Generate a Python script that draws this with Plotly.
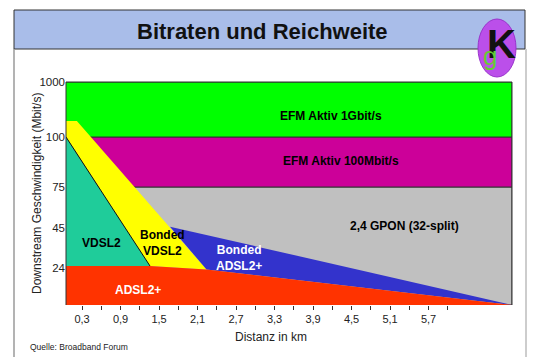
import numpy as np
import plotly.graph_objects as go

# ---------------- data ----------------
# y scale of the original is piecewise: tick values and their relative heights
y_tick_vals = [0, 24, 45, 75, 100, 1000]
y_tick_text = ["", "24", "45", "75", "100", "1000"]
y_tick_pos = [0, 37, 77, 118, 168, 223]

x_tick_vals = [round(0.3 * i, 1) for i in range(1, 21)]
x_tick_text = ["0,3", "", "0,9", "", "1,5", "", "2,1", "", "2,7", "", "3,3", "",
               "3,9", "", "4,5", "", "5,1", "", "5,7", ""]

x_min, x_max = 0.05, 7.0

# regions: distance (km) / bitrate (Mbit/s)
gpon_km = [x_min, x_max, x_max, x_min]
gpon_mbit = [0, 0, 75, 75]
efm100_km = [x_min, x_max, x_max, x_min]
efm100_mbit = [75, 75, 100, 100]
efm1g_km = [x_min, x_max, x_max, x_min]
efm1g_mbit = [100, 100, 1000, 1000]
bvdsl2_km = [x_min, 0.22, 2.24, 1.36, x_min]
bvdsl2_mbit = [362, 362, 23, 25, 100]
vdsl2_km = [x_min, 1.36, x_min]
vdsl2_mbit = [100, 25, 25]
badsl2_km = [1.67, x_max, 2.24]
badsl2_mbit = [46, 0, 23]
adsl2_km = [x_min, 1.36, 2.24, x_max, x_max, x_min]
adsl2_mbit = [25, 25, 23, 0, 0, 0]

labels = [
    ("EFM Aktiv 1Gbit/s", 4.18, 450, "black"),
    ("EFM Aktiv 100Mbit/s", 4.33, 88, "black"),
    ("2,4 GPON (32-split)", 5.32, 46.5, "black"),
    ("VDSL2", 0.6, 37, "black"),
    ("Bonded<br>VDSL2", 1.55, 37, "black"),
    ("Bonded<br>ADSL2+", 2.74, 29, "white"),
    ("ADSL2+", 1.17, 10, "white"),
]


def ypos(v):
    return np.interp(v, y_tick_vals, y_tick_pos)


FONT = "Liberation Sans, Arial, sans-serif"

# ---------------- figure ----------------
# page body has an 8px margin, so the figure is 8px smaller and offset
OFF = 8
SW, SH = 540, 357
L, R, T, B = 66, 512, 82, 305   # plot area in screen pixels


def px(x):
    return (x - L) / (R - L)


def py(y):
    return (B - y) / (B - T)


fig = go.Figure()


def poly(xs, ys, color, line_color=None):
    fig.add_trace(go.Scatter(
        x=xs, y=list(ypos(np.array(ys))), fill="toself", mode="lines",
        fillcolor=color,
        line=dict(color=line_color or color, width=1 if line_color else 0),
        hoverinfo="skip", showlegend=False))


poly(gpon_km, gpon_mbit, "#c0c0c0", "#333333")
poly(efm100_km, efm100_mbit, "#cc0099", "#333333")
poly(efm1g_km, efm1g_mbit, "#00ff00", "#333333")
poly(bvdsl2_km, bvdsl2_mbit, "#ffff00")
poly(vdsl2_km, vdsl2_mbit, "#1fcc9a")
fig.add_trace(go.Scatter(x=vdsl2_km[:2], y=list(ypos(np.array(vdsl2_mbit[:2]))),
                         mode="lines", line=dict(color="#111111", width=1),
                         hoverinfo="skip", showlegend=False))
poly(badsl2_km, badsl2_mbit, "#3333cc")
poly(adsl2_km, adsl2_mbit, "#ff3300")

for text, x, y, c in labels:
    fig.add_annotation(x=x, y=float(ypos(y)), text="<b>%s</b>" % text, showarrow=False,
                       xanchor="center", yanchor="middle",
                       font=dict(family=FONT, size=12, color=c), align="center")

shapes = []
# header bar
shapes.append(dict(type="rect", xref="paper", yref="paper",
                   x0=px(14), x1=px(525), y0=py(49), y1=py(10),
                   fillcolor="#a9bde9", line=dict(color="#333333", width=1), layer="below"))
# page side lines
shapes.append(dict(type="line", xref="paper", yref="paper", x0=px(14), x1=px(14),
                   y0=py(49), y1=py(357), line=dict(color="#9a9a9a", width=1.5)))
shapes.append(dict(type="line", xref="paper", yref="paper", x0=px(526), x1=px(526),
                   y0=py(49), y1=py(357), line=dict(color="#bdbdbd", width=1.5)))
# plot border (left, top, right)
for (a, b, c, d) in [(L, T, L, B), (L, T, R, T), (R, T, R, B)]:
    shapes.append(dict(type="line", xref="paper", yref="paper", x0=px(a), x1=px(c),
                       y0=py(b), y1=py(d), line=dict(color="#333333", width=1)))
# logo ellipse
shapes.append(dict(type="circle", xref="paper", yref="paper",
                   x0=px(478), x1=px(516), y0=py(77), y1=py(19),
                   fillcolor="#bb4fea", line=dict(color="#9933cc", width=1)))
fig.update_layout(shapes=shapes)


def note(text, x, y, size, color="#222222", angle=0, xanchor="center"):
    fig.add_annotation(xref="paper", yref="paper", x=px(x), y=py(y), text=text,
                       showarrow=False, xanchor=xanchor, yanchor="middle",
                       textangle=angle, font=dict(family=FONT, size=size, color=color))


note("<b>Bitraten und Reichweite</b>", 262, 31, 22, "#111111")
note("<b>K</b>", 501, 44, 40, "#111111")
note("g", 490, 56, 26, "#66cc33")
note("Distanz in km", 271, 337, 12)
note("Downstream Geschwindigkeit (Mbit/s)", 37, 194, 12, angle=-90)
note("Quelle: Broadband Forum", 28, 347, 8.5, xanchor="left")

fig.update_xaxes(range=[x_min, x_max], tickvals=x_tick_vals, ticktext=x_tick_text,
                 ticks="outside", ticklen=4, tickcolor="#333333", showgrid=False,
                 zeroline=False, showline=False,
                 tickfont=dict(family=FONT, size=11, color="#222222"))
fig.update_yaxes(range=[0, 223], tickvals=y_tick_pos, ticktext=y_tick_text,
                 ticks="", showgrid=False, zeroline=False, showline=False,
                 tickfont=dict(family=FONT, size=11.5, color="#222222"))

fig.update_layout(width=SW - OFF, height=SH - OFF,
                  margin=dict(l=L - OFF, r=SW - R, t=T - OFF, b=SH - B),
                  paper_bgcolor="white", plot_bgcolor="white", showlegend=False)

fig.write_html("out.html")
